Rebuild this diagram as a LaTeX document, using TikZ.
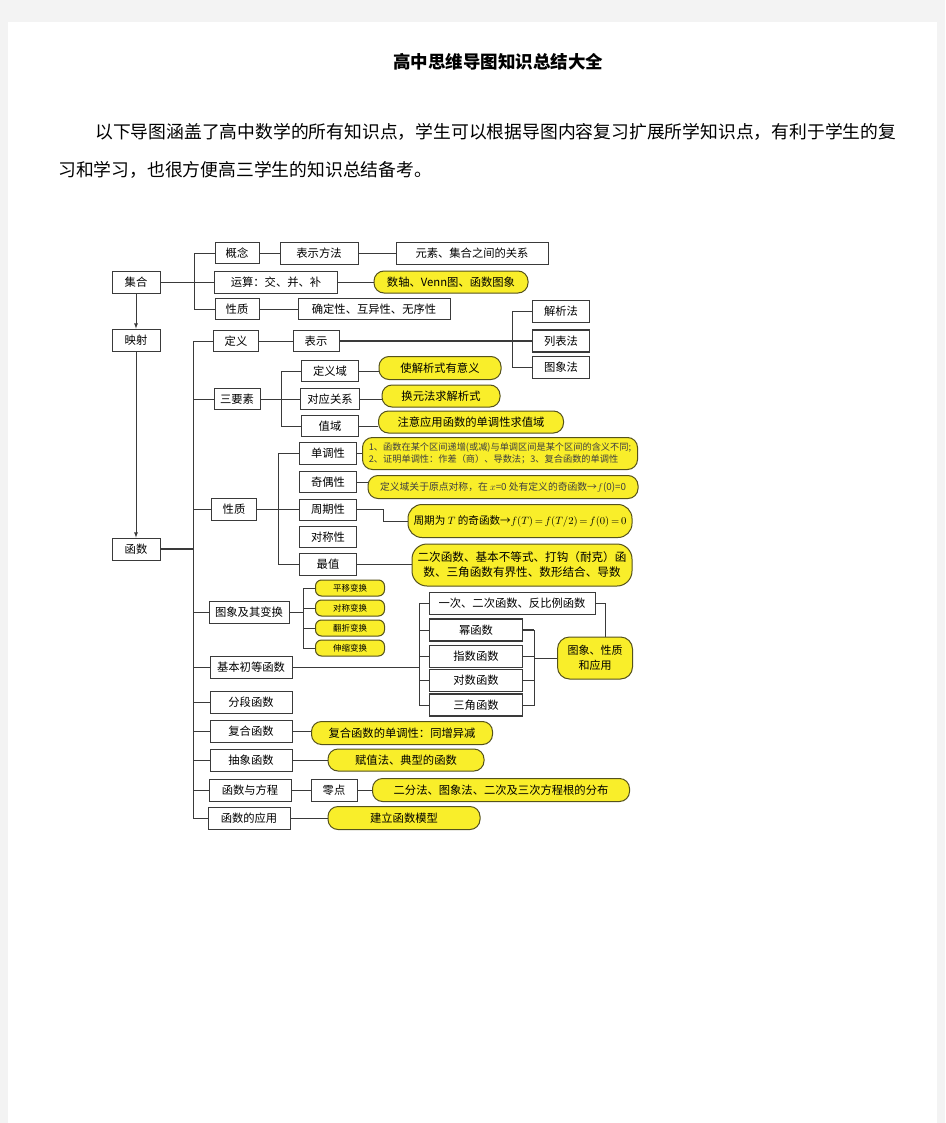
\RequirePackage{fix-cm}
\documentclass[tikz,border=0pt]{standalone}
\usepackage{amsmath}
\usepackage{amssymb}
\usepackage{fontspec}
\setmainfont{Noto Sans CJK SC}
\usetikzlibrary{arrows, positioning}
\definecolor{pagegray}{HTML}{F3F3F3}
\definecolor{pillfill}{HTML}{F9EE2A}
\definecolor{pillline}{HTML}{55521C}
\definecolor{linegray}{HTML}{3A3A3A}

\begin{document}
\begin{tikzpicture}[x=1pt, y=-1pt,
	box/.style={draw=linegray, fill=white, line width=.8pt, inner sep=0pt, minimum height=22pt, font=\fontsize{11.3}{13}\selectfont},
	pill/.style={draw=pillline, fill=pillfill, line width=1pt, rounded corners=10pt, inner sep=0pt, minimum height=23pt, font=\fontsize{11.3}{13}\selectfont},
	smallpill/.style={pill, rounded corners=6pt, minimum height=16pt, minimum width=69pt, font=\fontsize{8.5}{10}\selectfont},
	link/.style={draw=linegray, line width=.8pt}]
			\fill[pagegray] (0,0) rectangle (945,1123);
			\fill[white] (8,22) rectangle (937,1123);
			\node[font=\bfseries\fontsize{17.5}{20}\selectfont] (title) at (498,62) {高中思维导图知识总结大全};
			\node[anchor=west, inner sep=0pt, font=\fontsize{17.8}{20}\selectfont] (intro1) at (95,132) {以下导图涵盖了高中数学的所有知识点，学生可以根据导图内容复习扩展所学知识点，有利于学生的复};
			\node[anchor=west, inner sep=0pt, font=\fontsize{17.8}{20}\selectfont] (intro2) at (58,170) {习和学习，也很方便高三学生的知识总结备考。};

			\node[box, minimum width=48pt] (jihe) at (136,282) {集合};
			\node[box, minimum width=48pt] (yingshe) at (136,340) {映射};
			\node[box, minimum width=48pt] (hanshu) at (136,549) {函数};
			\node[box, minimum width=44pt, minimum height=21pt] (gainian) at (237,253) {概念};
			\node[box, minimum width=123pt] (yunsuan) at (276,282) {运算：交、并、补};
			\node[box, minimum width=44pt, minimum height=21pt] (jxingzhi) at (237,309) {性质};
			\node[box, minimum width=78pt] (biaofa) at (319,253) {表示方法};
			\node[box, minimum width=152pt] (guanxi) at (472,253) {元素、集合之间的关系};
			\node[pill, minimum width=154pt, minimum height=22pt] (venn) at (451,282) {数轴、Venn图、函数图象};
			\node[box, minimum width=152pt, minimum height=21pt] (sanxing) at (374,309) {确定性、互异性、无序性};

			\node[box, minimum width=45pt, minimum height=21pt] (dingyi) at (236,341) {定义};
			\node[box, minimum width=46pt, minimum height=21pt] (biaoshi) at (316,341) {表示};
			\node[box, minimum width=57pt] (jiexi) at (561,311) {解析法};
			\node[box, minimum width=57pt, line width=1.4pt] (liebiao) at (561,341) {列表法};
			\node[box, minimum width=57pt] (tuxiangfa) at (561,367) {图象法};

			\node[box, minimum width=46pt, minimum height=21pt] (sanyaosu) at (237,399) {三要素};
			\node[box, minimum width=57pt, minimum height=21pt] (dingyiyu) at (330,371) {定义域};
			\node[box, minimum width=59pt, minimum height=21pt] (duiying) at (330,399) {对应关系};
			\node[box, minimum width=57pt, minimum height=21pt] (zhiyu) at (330,426) {值域};
			\node[pill, minimum width=122pt] (youyiyi) at (440,368) {使解析式有意义};
			\node[pill, minimum width=118pt, minimum height=22pt] (huanyuan) at (441,396) {换元法求解析式};
			\node[pill, minimum width=185pt, minimum height=22pt] (qiuzhiyu) at (471,422) {注意应用函数的单调性求值域};

			\node[box, minimum width=45pt] (fxingzhi) at (234,509.5) {性质};
			\node[box, minimum width=57pt] (dandiao) at (328,453.5) {单调性};
			\node[box, minimum width=57pt, minimum height=21pt] (jiou) at (328,482) {奇偶性};
			\node[box, minimum width=57pt, minimum height=21pt] (zhouqi) at (328,509.5) {周期性};
			\node[box, minimum width=57pt, minimum height=21pt] (duicheng) at (328,537) {对称性};
			\node[box, minimum width=57pt] (zuizhi) at (328,564) {最值};
			\node[pill, minimum width=275pt, minimum height=32pt, align=left, text=black!75, font=\fontsize{9.2}{12.5}\selectfont] (dandiaoshuo) at (500,453.5) {1、函数在某个区间递增(或减)与单调区间是某个区间的含义不同;\\2、证明单调性：作差（商）、导数法；3、复合函数的单调性};
			\node[pill, minimum width=270pt, minimum height=23pt, text=black!75, font=\fontsize{9.8}{12}\selectfont] (jioushuo) at (503,487) {定义域关于原点对称，在 $x$=0 处有定义的奇函数→$f$(0)=0};
			\node[pill, minimum width=224pt, minimum height=33pt, rounded corners=14pt, font=\fontsize{10.6}{14}\selectfont] (zhouqishuo) at (520,521) {周期为 $T$ 的奇函数→$f(T)\,{=}\,f(T/2)\,{=}\,f(0)\,{=}\,0$};
			\node[pill, minimum width=220pt, minimum height=42pt, rounded corners=15pt, align=center, font=\fontsize{11.6}{15}\selectfont] (zuizhishuo) at (522,565) {二次函数、基本不等式、打钩（耐克）函\\数、三角函数有界性、数形结合、导数};

			\node[box, minimum width=80pt] (bianhuan) at (249,612) {图象及其变换};
			\node[smallpill] (pingyi) at (350,588) {平移变换};
			\node[smallpill] (duichengbh) at (350,608) {对称变换};
			\node[smallpill] (fanzhe) at (350,628) {翻折变换};
			\node[smallpill] (shensuo) at (350,648) {伸缩变换};

			\node[box, minimum width=82pt] (jiben) at (251,667) {基本初等函数};
			\node[box, minimum width=166pt] (yici) at (512,603) {一次、二次函数、反比例函数};
			\node[box, minimum width=93pt, line width=1.3pt] (mi) at (476,630) {幂函数};
			\node[box, minimum width=93pt] (zhishu) at (476,656) {指数函数};
			\node[box, minimum width=93pt] (duishu) at (476,680) {对数函数};
			\node[box, minimum width=93pt, line width=1.1pt] (sanjiao) at (476,705) {三角函数};
			\node[pill, minimum width=75pt, minimum height=42pt, rounded corners=12pt, align=center, font=\fontsize{11}{15}\selectfont] (tuxiangshuo) at (595,658) {图象、性质\\和应用};

			\node[box, minimum width=82pt] (fenduan) at (251,702) {分段函数};
			\node[box, minimum width=82pt] (fuhe) at (251,731) {复合函数};
			\node[pill, minimum width=181pt] (tongzeng) at (402,733) {复合函数的单调性：同增异减};
			\node[box, minimum width=82pt] (chouxiang) at (251,760) {抽象函数};
			\node[pill, minimum width=156pt, minimum height=22pt] (fuzhi) at (406,760) {赋值法、典型的函数};
			\node[box, minimum width=82pt] (fangcheng) at (250,790) {函数与方程};
			\node[box, minimum width=46pt] (lingdian) at (334,790) {零点};
			\node[pill, minimum width=257pt] (fenbu) at (501,790) {二分法、图象法、二次及三次方程根的分布};
			\node[box, minimum width=82pt] (yingyong) at (249,818) {函数的应用};
			\node[pill, minimum width=152pt] (moxing) at (404,818) {建立函数模型};

			\draw[link, -latex] (jihe) -- (yingshe);
			\draw[link, -latex] (yingshe) -- (hanshu);
			\draw[link] (jihe) -- (yunsuan);
			\draw[link] (gainian.west) -- ++(-20,0) |- (jxingzhi.west);
			\draw[link] (gainian) -- (biaofa);
			\draw[link] (biaofa) -- (guanxi);
			\draw[link] (yunsuan) -- (venn);
			\draw[link] (jxingzhi) -- (sanxing);

			\coordinate (gan) at (193,341);
			\draw[link] (dingyi.west) -- (gan) |- (yingyong.west);
			\foreach \n in {sanyaosu, fxingzhi, bianhuan, jiben, fenduan, fuhe, chouxiang, fangcheng}{
				\draw[link] (gan |- \n) -- (\n.west);
			}
			\draw[link, line width=1.3pt] (hanshu) -- (gan |- hanshu);

			\draw[link] (dingyi) -- (biaoshi);
			\draw[link, line width=1.6pt] (biaoshi) -- (liebiao);
			\draw[link] (jiexi.west) -- ++(-20,0) |- (tuxiangfa.west);

			\draw[link] (sanyaosu) -- (duiying);
			\draw[link] (dingyiyu.west) -- ++(-20,0) |- (zhiyu.west);
			\draw[link] (dingyiyu.east) -- (dingyiyu.east -| youyiyi.west);
			\draw[link] (duiying.east) -- (duiying.east -| huanyuan.west);
			\draw[link] (zhiyu.east) -- (zhiyu.east -| qiuzhiyu.west);

			\draw[link] (fxingzhi) -- (zhouqi);
			\draw[link] (dandiao.west) -- ++(-21,0) |- (zuizhi.west);
			\draw[link] (dandiao) -- (dandiaoshuo);
			\draw[link] (jiou.east) -- (jiou.east -| jioushuo.west);
			\draw[link] (zhouqi.east) -- ++(26,0) |- (zhouqishuo.west);
			\draw[link] (zuizhi.east) -- (zuizhi.east -| zuizhishuo.west);

			\coordinate (bk) at (303,588);
			\draw[link] (bianhuan.east) -- (bianhuan.east -| bk);
			\draw[link] (pingyi.west) -- (bk) |- (shensuo.west);
			\draw[link] (bk |- duichengbh) -- (duichengbh.west);
			\draw[link] (bk |- fanzhe) -- (fanzhe.west);

			\coordinate (jk) at (419,603);
			\draw[link] (jiben.east) -- (jiben.east -| jk);
			\draw[link] (yici.west) -- (jk) |- (sanjiao.west);
			\foreach \n in {mi, zhishu, duishu}{
				\draw[link] (jk |- \n) -- (\n.west);
			}
			\coordinate (rk) at (534,630);
			\draw[link, line width=1.3pt] (mi.east) -- (rk);
			\draw[link] (rk) |- (sanjiao.east);
			\foreach \n in {zhishu, duishu}{
				\draw[link] (\n.east) -- (rk |- \n);
			}
			\draw[link] (rk |- tuxiangshuo) -- (tuxiangshuo.west);
			\draw[link] (yici.east) -| ([xshift=10pt]tuxiangshuo.north);

			\draw[link] (fuhe.east) -- (fuhe.east -| tongzeng.west);
			\draw[link] (chouxiang) -- (fuzhi);
			\draw[link] (fangcheng) -- (lingdian);
			\draw[link] (lingdian) -- (fenbu);
			\draw[link] (yingyong) -- (moxing);
		\end{tikzpicture}
\end{document}
